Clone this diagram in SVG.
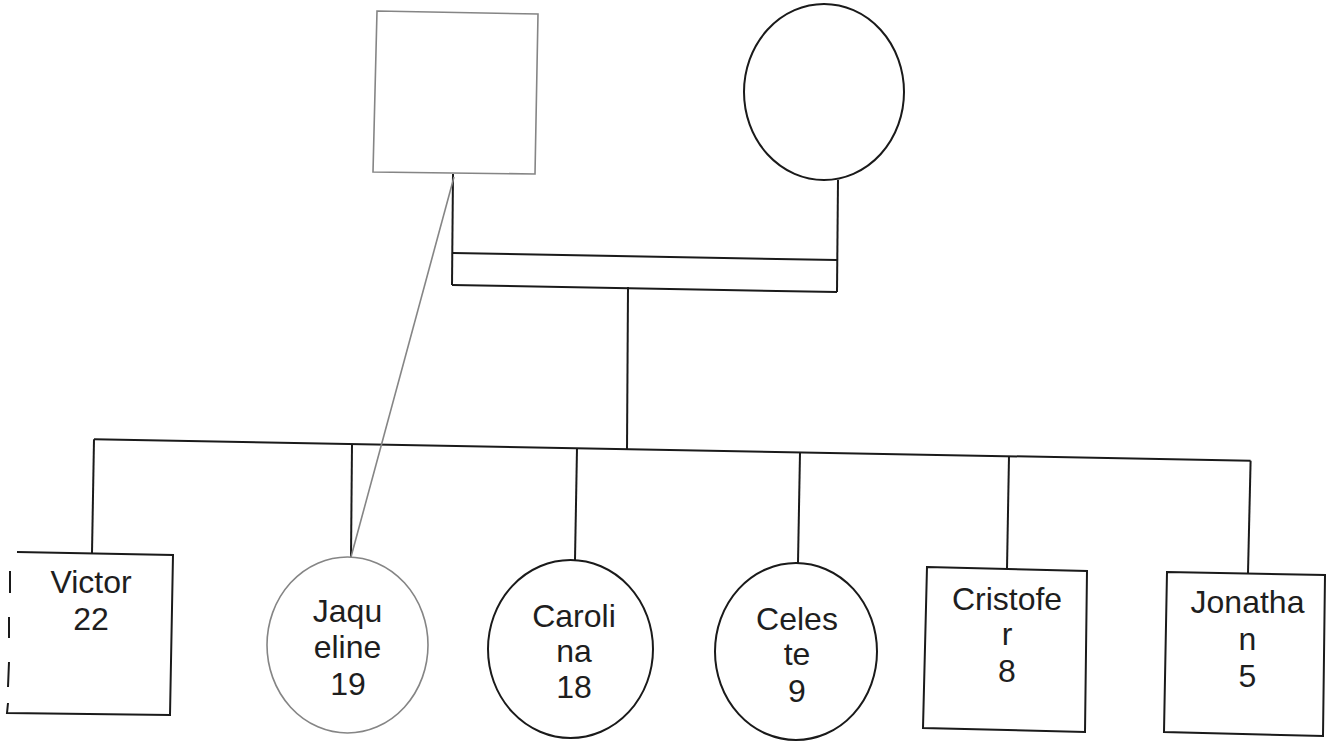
<svg xmlns="http://www.w3.org/2000/svg" width="1327" height="742" viewBox="0 0 1327 742">
<style>
.k{fill:none;stroke:#1a1a1a;stroke-width:2;stroke-linejoin:miter}
.g{fill:none;stroke:#858585;stroke-width:1.6}
.t{font-family:"Liberation Sans",Arial,sans-serif;font-size:32px;fill:#1e1e1e;text-anchor:middle}
</style>
<rect width="1327" height="742" fill="#ffffff"/>
<g id="connectors">
<path class="k" d="M453,174 L452,285"/>
<path class="k" d="M453,253 L837,260"/>
<path class="k" d="M452,285 L837,292"/>
<path class="k" d="M838,180 L837,292"/>
<path class="k" d="M628,287 L627,449"/>
<path class="k" d="M94,439.3 L1250.6,460.7"/>
<path class="k" d="M94,439.3 L92,553"/>
<path class="k" d="M352,444 L351,557"/>
<path class="k" d="M577,448 L575,560"/>
<path class="k" d="M800,452.5 L798,563"/>
<path class="k" d="M1009,456.2 L1007,568.5"/>
<path class="k" d="M1250.6,460.7 L1248,573"/>
<path class="g" d="M454,177 L351,557"/>
</g>
<g id="father">
<polygon class="g" points="377,11 538,14 535,174 373,172"/>
</g>
<g id="mother">
<ellipse class="k" cx="824" cy="92" rx="80" ry="88"/>
</g>
<g id="victor">
<path class="k" d="M17,552 L173,555 L170,715 L7,713 L8,703"/>
<path class="k" d="M10,571 L10,593 M9,617 L9,638 M9,662 L8,687"/>
<text class="t" x="91" y="593">Victor</text>
<text class="t" x="91" y="630">22</text>
</g>
<g id="jaqueline">
<ellipse class="g" cx="347.5" cy="645" rx="80.5" ry="88"/>
<text class="t" x="347.5" y="622">Jaqu</text>
<text class="t" x="347.5" y="658">eline</text>
<text class="t" x="348" y="695">19</text>
</g>
<g id="carolina">
<ellipse class="k" cx="570.5" cy="649" rx="82.5" ry="89"/>
<text class="t" x="574" y="627">Caroli</text>
<text class="t" x="574" y="662">na</text>
<text class="t" x="574" y="698">18</text>
</g>
<g id="celeste">
<ellipse class="k" cx="796" cy="651.5" rx="81" ry="88.5"/>
<text class="t" x="797" y="630">Celes</text>
<text class="t" x="797" y="665">te</text>
<text class="t" x="797" y="702">9</text>
</g>
<g id="cristofer">
<polygon class="k" points="927,567 1087,571 1085,732 923,728"/>
<text class="t" x="1007" y="610">Cristofe</text>
<text class="t" x="1007" y="645">r</text>
<text class="t" x="1007" y="682">8</text>
</g>
<g id="jonathan">
<polygon class="k" points="1167,572 1325,575 1323,736 1164,732"/>
<text class="t" x="1247.5" y="613">Jonatha</text>
<text class="t" x="1247.5" y="650">n</text>
<text class="t" x="1247.5" y="687">5</text>
</g>
</svg>
